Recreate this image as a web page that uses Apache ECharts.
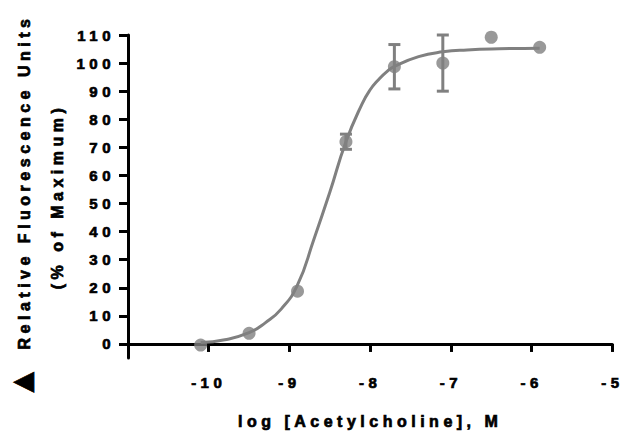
<!DOCTYPE html>
<html>
<head>
<meta charset="utf-8">
<script src="https://cdn.jsdelivr.net/npm/echarts@6/dist/echarts.min.js"></script>
<style>
  html, body { margin: 0; padding: 0; background: #fff; }
  #chart { width: 622px; height: 434px; }
  /* heavy, widely spaced lettering like the original figure */
  #chart text {
    letter-spacing: 4.5px;
    font-family: "Liberation Sans", Arimo, Arial, sans-serif !important;
    font-weight: 700 !important;
    stroke: #000 !important;
    stroke-width: 0.7px !important;
  }
</style>
</head>
<body>
<div id="chart"></div>
<script>
// measured points (log M, % of max)
const xValues = [-10.1, -9.5, -8.9, -8.3, -7.7, -7.1, -6.5, -5.9];
const meanValues = [-0.4, 3.8, 18.8, 72.0, 98.7, 100.0, 109.2, 105.6];
const errValues = [0, 0, 0, 2.7, 7.9, 10.0, 0, 0];

// fitted curve
const fitX = [-10.1, -9.8, -9.5, -9.3, -9.1, -8.9, -8.7, -8.5, -8.3, -8.1, -8.0, -7.9, -7.8, -7.7, -7.4, -7.1, -6.8, -6.4, -5.9];
const fitY = [0.5, 1.5, 4.0, 7.5, 12.5, 21.0, 37.0, 54.0, 72.0, 85.5, 90.5, 94.0, 96.8, 98.8, 102.3, 104.0, 104.7, 105.1, 105.3];

const xTicks = [-10, -9, -8, -7, -6, -5];
const yTicks = [0, 10, 20, 30, 40, 50, 60, 70, 80, 90, 100, 110];

const gray = '#808080';
const font = 'Liberation Sans, Arial, sans-serif';

const chart = echarts.init(document.getElementById('chart'), null, { renderer: 'svg' });

const option = {
  animation: false,
  grid: { left: 128, right: 9, top: 35, bottom: 73 },
  xAxis: {
    type: 'value',
    min: -11,
    max: -5,
    name: 'log [Acetylcholine], M',
    nameLocation: 'middle',
    nameGap: 55,
    nameTextStyle: { fontFamily: font, fontWeight: 'bold', fontSize: 16, color: '#000' },
    axisLine: { lineStyle: { color: '#000', width: 3 } },
    axisTick: { customValues: xTicks, length: 8, lineStyle: { color: '#000', width: 3 } },
    axisLabel: { customValues: xTicks, margin: 17, fontFamily: font, fontWeight: 'bold', fontSize: 15, color: '#000' },
    splitLine: { show: false }
  },
  yAxis: {
    type: 'value',
    min: -5,
    max: 110,
    name: '(% of Maximum)',
    nameLocation: 'middle',
    nameGap: 63,
    nameTextStyle: { fontFamily: font, fontWeight: 'bold', fontSize: 16, color: '#000' },
    axisLine: { lineStyle: { color: '#000', width: 3 } },
    axisTick: { customValues: yTicks, length: 9, lineStyle: { color: '#000', width: 3 } },
    axisLabel: { customValues: yTicks, margin: 13, fontFamily: font, fontWeight: 'bold', fontSize: 15, color: '#000' },
    splitLine: { show: false }
  },
  graphic: [
    {
      type: 'text',
      x: 24, y: 182,
      rotation: Math.PI / 2,
      style: { text: 'Relative Fluorescence Units', font: 'bold 16px ' + font, fill: '#000', align: 'center', verticalAlign: 'middle' }
    },
    {
      type: 'text',
      x: 21, y: 380,
      rotation: Math.PI / 2,
      style: { text: '▲', font: '35px ' + font, fill: '#000', align: 'center', verticalAlign: 'middle' }
    }
  ],
  series: [
    {
      type: 'line',
      data: fitX.map((x, i) => [x, fitY[i]]),
      smooth: 0.5,
      showSymbol: false,
      lineStyle: { color: gray, width: 3 },
      z: 2
    },
    {
      type: 'custom',
      data: xValues.map((x, i) => [x, meanValues[i], errValues[i]]),
      renderItem: function (params, api) {
        const err = api.value(2);
        if (!err) return null;
        const x = api.value(0), y = api.value(1);
        const top = api.coord([x, y + err]);
        const bot = api.coord([x, y - err]);
        const half = 6;
        const st = { stroke: gray, lineWidth: 3 };
        return {
          type: 'group',
          children: [
            { type: 'line', shape: { x1: top[0], y1: top[1], x2: bot[0], y2: bot[1] }, style: st },
            { type: 'line', shape: { x1: top[0] - half, y1: top[1], x2: top[0] + half, y2: top[1] }, style: st },
            { type: 'line', shape: { x1: bot[0] - half, y1: bot[1], x2: bot[0] + half, y2: bot[1] }, style: st }
          ]
        };
      },
      z: 3
    },
    {
      type: 'scatter',
      data: xValues.map((x, i) => [x, meanValues[i]]),
      symbol: 'circle',
      symbolSize: 13,
      itemStyle: { color: gray },
      z: 4
    }
  ]
};

chart.setOption(option);
</script>
</body>
</html>
